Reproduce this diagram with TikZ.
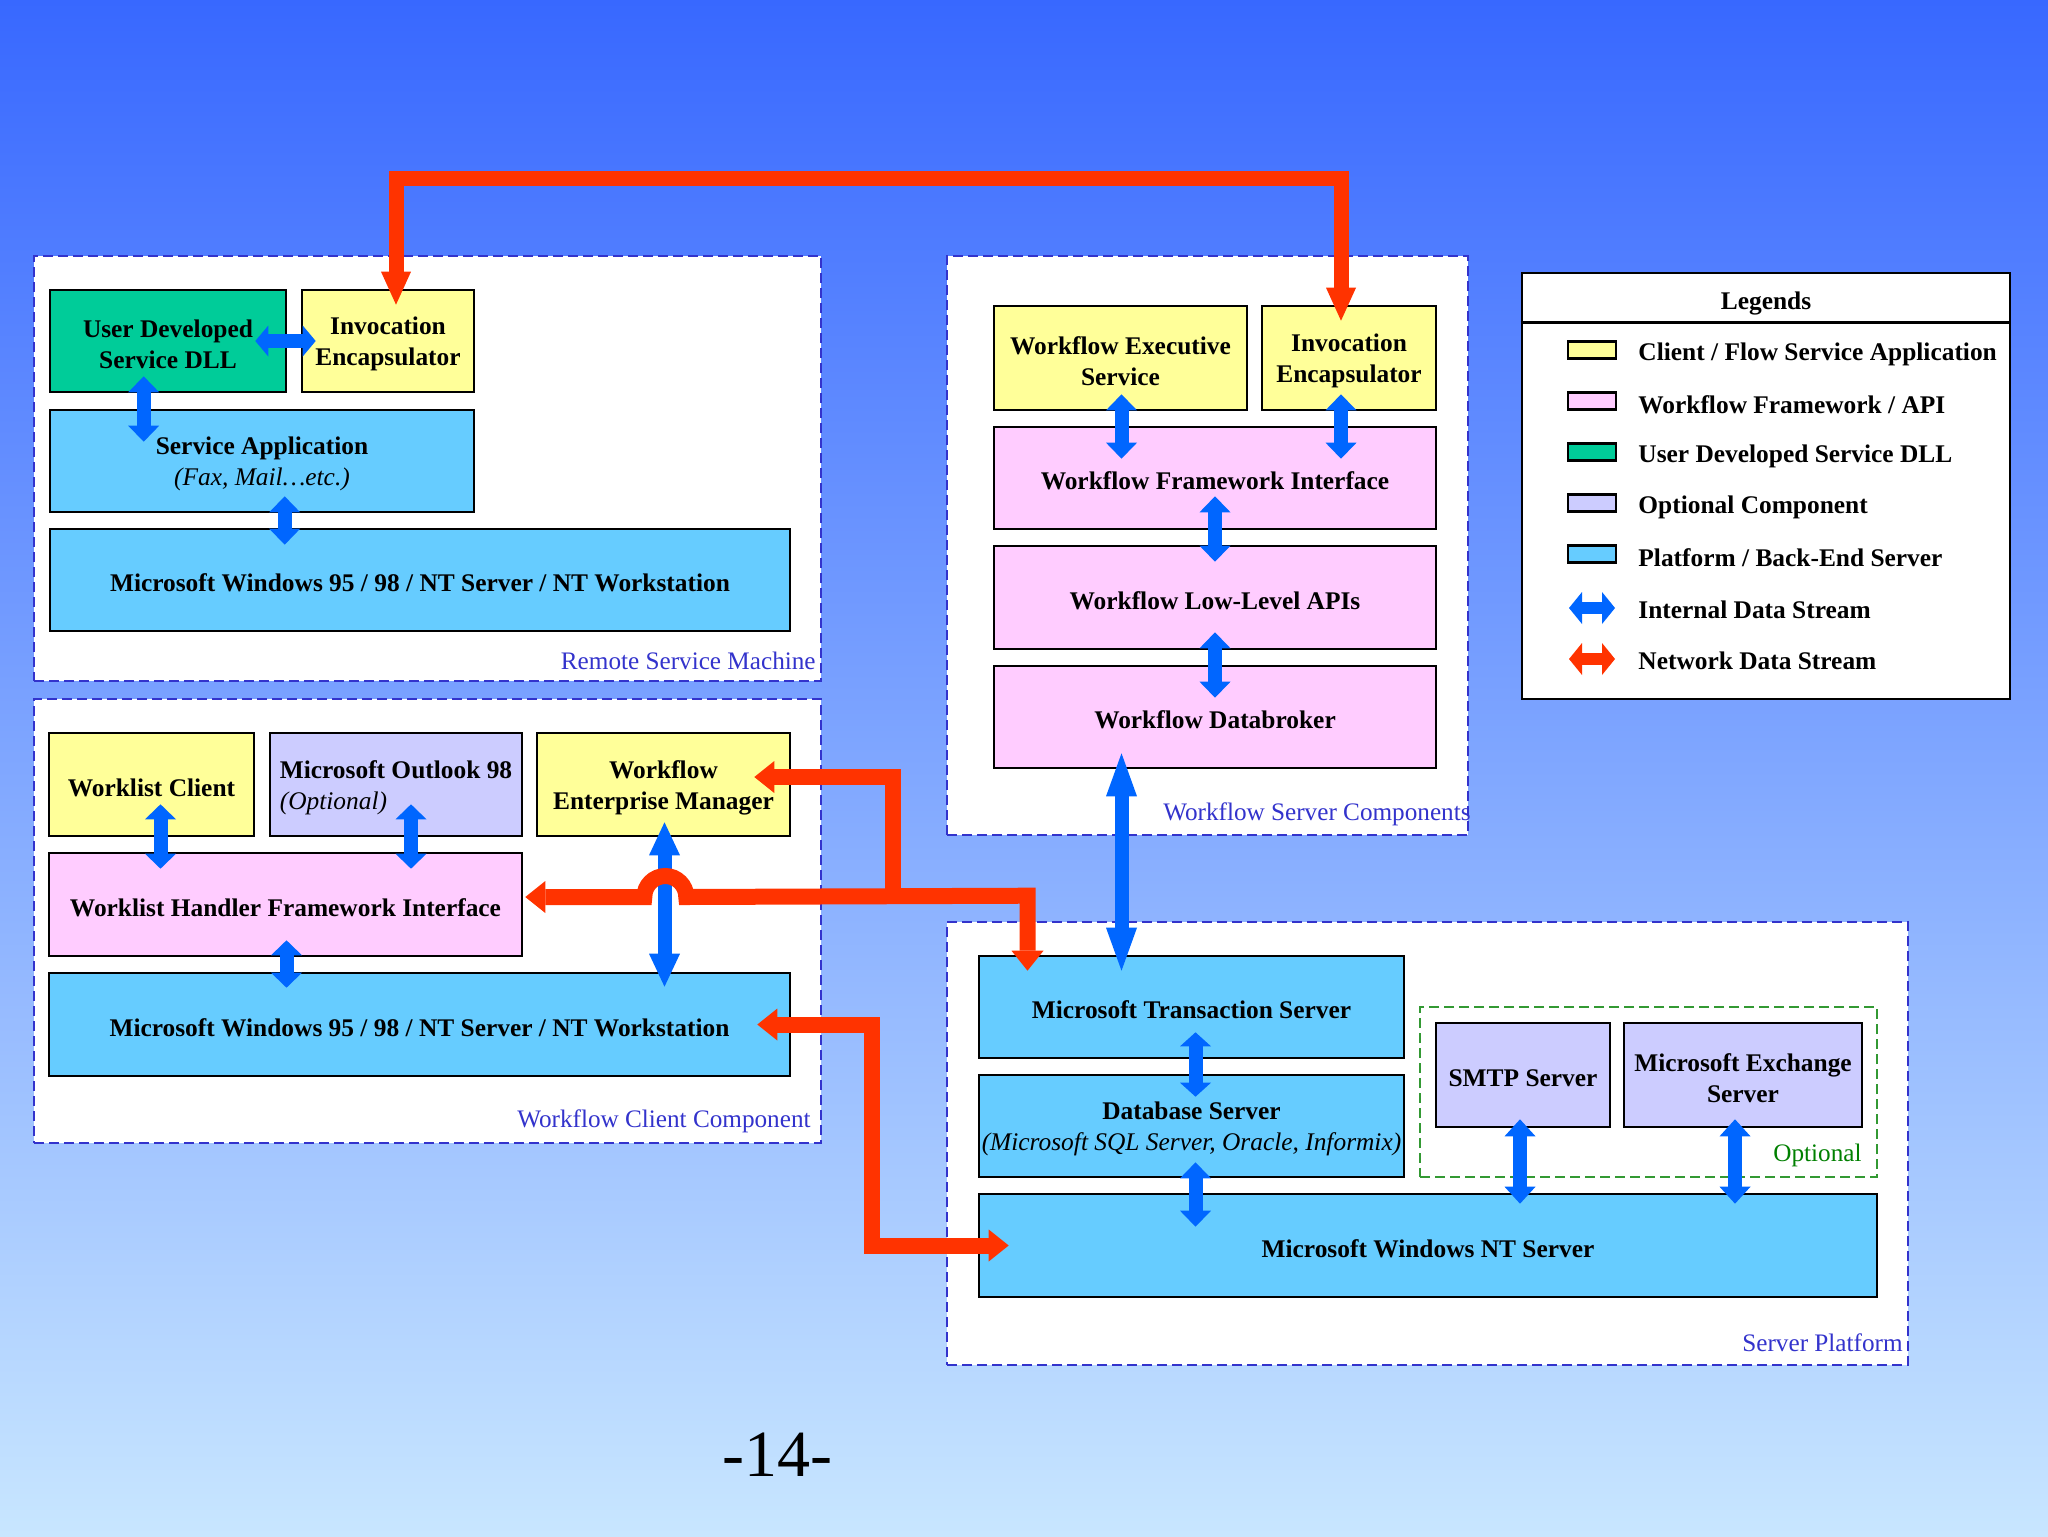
\documentclass[tikz,border=0pt]{standalone}
\usepackage{fontspec}
\setmainfont{Liberation Serif}
\usetikzlibrary{arrows.meta,fit,calc}
\definecolor{cyellow}{HTML}{FFFF99}
\definecolor{cpink}{HTML}{FFCCFF}
\definecolor{cgreen}{HTML}{00CC99}
\definecolor{clav}{HTML}{CCCCFF}
\definecolor{cblue}{HTML}{66CCFF}
\definecolor{ablue}{HTML}{0066FF}
\definecolor{ared}{HTML}{FF3300}
\definecolor{lblue}{HTML}{3333CC}
\definecolor{optgreen}{HTML}{008000}
\definecolor{optborder}{HTML}{339933}
\definecolor{bgtop}{HTML}{3868FF}
\definecolor{bgbot}{HTML}{C8E6FF}
\begin{document}
\begin{tikzpicture}[x=0.5pt,y=-0.5pt,
  box/.style={draw=black,line width=1.3pt,inner sep=0pt},
  btxt/.style={inner sep=0pt,align=center,yshift=-1.5pt,font=\fontsize{12.7}{15.5}\selectfont\bfseries},
  cont/.style={draw=lblue,fill=white,line width=1pt,dash pattern=on 5pt off 2.5pt,inner sep=0pt},
  optbox/.style={draw=optborder,line width=1pt,dash pattern=on 5pt off 2.5pt,inner sep=0pt},
  lbl/.style={text=lblue,inner sep=0pt,font=\fontsize{12.6}{15}\selectfont},
  sw/.style={draw=black,line width=1.2pt,minimum width=24pt,minimum height=8.5pt,inner sep=0pt},
  ltxt/.style={anchor=west,inner sep=0pt,font=\fontsize{12.7}{15}\selectfont\bfseries},
  barr/.style={draw=ablue,line width=7pt,arrows={Triangle[width=15.5pt,length=#1,line width=0pt]-Triangle[width=15.5pt,length=#1,line width=0pt]}},
  rarr/.style={draw=ared,line width=8pt,arrows={Triangle[width=16pt,length=#1,line width=0pt]-Triangle[width=16pt,length=#1,line width=0pt]}},
  rarrs/.style={draw=ared,line width=8pt,arrows={Triangle[width=16pt,length=#1,line width=0pt]-}},
]
\useasboundingbox (0,0) rectangle (2048,1536);
\shade[top color=bgtop,bottom color=bgbot] (0,0) rectangle (2048,1536);

% containers
\node[cont,fit={(34,256) (821,681)}] (rsm) {};
\node[cont,fit={(947,256) (1468,835)}] (wsc) {};
\node[cont,fit={(34,699) (821,1143)}] (wcc) {};
\node[cont,fit={(947,922) (1908,1365)}] (sp) {};
\node[optbox,fit={(1420,1007) (1877,1177)}] (opt) {};

\node[lbl,anchor=east] (lrsm) at (816,661) {Remote Service Machine};
\node[lbl,anchor=east] (lwsc) at (1471,814) {Workflow Server Components};
\node[lbl,anchor=east] (lwcc) at (811,1121) {Workflow Client Component};
\node[lbl,anchor=east] (lsp) at (1903,1343) {Server Platform};
\node[lbl,anchor=east,text=optgreen] (lopt) at (1862,1155) {Optional};

% remote service machine
\node[box,fill=cgreen,fit={(50,290) (286,392)}] (ud) {};
\node[box,fill=cyellow,fit={(302,290) (474,392)}] (ie1) {};
\node[box,fill=cblue,fit={(50,410) (474,512)}] (sa) {};
\node[box,fill=cblue,fit={(50,529) (790,631)}] (win1) {};
\node[btxt] (udt) at (ud.center) {User Developed\\Service DLL};
\node[btxt] (ie1t) at (ie1.center) {Invocation\\Encapsulator};
\node[btxt] (sat) at (sa.center) {Service Application\\{\normalfont\itshape (Fax, Mail…etc.)}};
\node[btxt] (win1t) at (win1.center) {Microsoft Windows 95 / 98 / NT Server / NT Workstation};

% workflow server components
\node[box,fill=cyellow,fit={(994,306) (1247,410)}] (wes) {};
\node[box,fill=cyellow,fit={(1262,306) (1436,410)}] (ie2) {};
\node[box,fill=cpink,fit={(994,427) (1436,529)}] (wfi) {};
\node[box,fill=cpink,fit={(994,546) (1436,649)}] (wll) {};
\node[box,fill=cpink,fit={(994,666) (1436,768)}] (wdb) {};
\node[btxt] (west) at (wes.center) {Workflow Executive\\Service};
\node[btxt] (ie2t) at (ie2.center) {Invocation\\Encapsulator};
\node[btxt] (wfit) at (wfi.center) {Workflow Framework Interface};
\node[btxt] (wllt) at (wll.center) {Workflow Low-Level APIs};
\node[btxt] (wdbt) at (wdb.center) {Workflow Databroker};

% workflow client component
\node[box,fill=cyellow,fit={(49,733) (254,836)}] (wlc) {};
\node[box,fill=clav,fit={(270,733) (522,836)}] (ol) {};
\node[box,fill=cyellow,fit={(537,733) (790,836)}] (wem) {};
\node[box,fill=cpink,fit={(49,853) (522,956)}] (whfi) {};
\node[box,fill=cblue,fit={(49,973) (790,1076)}] (win2) {};
\node[btxt] (wlct) at (wlc.center) {Worklist Client};
\node[btxt,align=left] (olt) at (ol.center) {Microsoft Outlook 98\\{\normalfont\itshape (Optional)}};
\node[btxt] (wemt) at (wem.center) {Workflow\\Enterprise Manager};
\node[btxt] (whfit) at (whfi.center) {Worklist Handler Framework Interface};
\node[btxt] (win2t) at (win2.center) {Microsoft Windows 95 / 98 / NT Server / NT Workstation};

% server platform
\node[box,fill=cblue,fit={(979,956) (1404,1058)}] (mts) {};
\node[box,fill=cblue,fit={(979,1075) (1404,1177)}] (dbs) {};
\node[box,fill=clav,fit={(1436,1023) (1610,1127)}] (smtp) {};
\node[box,fill=clav,fit={(1624,1023) (1862,1127)}] (mes) {};
\node[box,fill=cblue,fit={(979,1194) (1877,1297)}] (nts) {};
\node[btxt] (mtst) at (mts.center) {Microsoft Transaction Server};
\node[btxt] (dbst) at (dbs.center) {Database Server\\{\normalfont\itshape (Microsoft SQL Server, Oracle, Informix)}};
\node[btxt] (smtpt) at (smtp.center) {SMTP Server};
\node[btxt] (mest) at (mes.center) {Microsoft Exchange\\Server};
\node[btxt] (ntst) at (nts.center) {Microsoft Windows NT Server};

% legend
\node[draw=black,fill=white,line width=1.3pt,inner sep=0pt,fit={(1522,273) (2010,699)}] (lg) {};
\draw[line width=1.3pt] (lg.north west) ++(0,51) -- ++(488,0);
\node[font=\fontsize{12.7}{15}\selectfont\bfseries,inner sep=0pt] (lgt) at (1766,303) {Legends};
\node[sw,fill=cyellow] (sw1) at (1592,350) {};
\node[sw,fill=cpink] (sw2) at (1592,401) {};
\node[sw,fill=cgreen] (sw3) at (1592,452) {};
\node[sw,fill=clav] (sw4) at (1592,503) {};
\node[sw,fill=cblue] (sw5) at (1592,554) {};
\coordinate (la1) at (1569,608);
\coordinate (lb1) at (1615,608);
\coordinate (la2) at (1569,659);
\coordinate (lb2) at (1615,659);
\draw[draw=ablue,line width=6pt,arrows={Triangle[width=16pt,length=6.5pt,line width=0pt]-Triangle[width=16pt,length=6.5pt,line width=0pt]}] (la1) -- (lb1);
\draw[draw=ared,line width=6pt,arrows={Triangle[width=16pt,length=6.5pt,line width=0pt]-Triangle[width=16pt,length=6.5pt,line width=0pt]}] (la2) -- (lb2);
\node[ltxt] (lt1) at (1638,354) {Client / Flow Service Application};
\node[ltxt] (lt2) at (1638,405) {Workflow Framework / API};
\node[ltxt] (lt3) at (1638,456) {User Developed Service DLL};
\node[ltxt] (lt4) at (1638,507) {Optional Component};
\node[ltxt] (lt5) at (1638,558) {Platform / Back-End Server};
\node[ltxt] (lt6) at (1638,610) {Internal Data Stream};
\node[ltxt] (lt7) at (1638,661) {Network Data Stream};

% page number
\node[font=\fontsize{33}{40}\selectfont,inner sep=0pt] (pg) at (777,1455) {-14-};

% blue arrows
\draw[barr=8pt] ($(ud.south west)+(95,-17)$) -- ($(sa.north west)+(95,33)$);
\draw[barr=6.5pt] ($(ud.east)+(-32,0)$) -- ($(ie1.west)+(15,0)$);
\draw[barr=8pt] ($(sa.south west)+(236,-17)$) -- ($(win1.north west)+(236,17)$);
\draw[barr=8pt] ($(wes.south)+(1,-17)$) -- ($(wes.south |- wfi.north)+(1,33)$);
\draw[barr=8pt] ($(ie2.south)+(-8,-17)$) -- ($(ie2.south |- wfi.north)+(-8,33)$);
\draw[barr=8pt] ($(wfi.south)+(0,-34)$) -- ($(wll.north)+(0,17)$);
\draw[barr=8pt] ($(wll.south)+(0,-18)$) -- ($(wdb.north)+(0,33)$);
\draw[barr=21.5pt] ($(wes.south |- wdb.south)+(1,-16)$) -- ($(wes.south |- mts.north)+(1,16)$);
\draw[barr=7.5pt] ($(wlc.south)+(9,-33)$) -- ($(wlc.south |- whfi.north)+(9,17)$);
\draw[barr=7.5pt] ($(ol.south)+(15,-33)$) -- ($(ol.south |- whfi.north)+(15,17)$);
\draw[barr=7.5pt] ($(whfi.south)+(1,-17)$) -- ($(whfi.south |- win2.north)+(1,16)$);
\draw[barr=16.5pt] ($(wem.south)+(1,-15)$) -- ($(wem.south |- win2.north)+(1,15)$);
\draw[barr=7pt] ($(mts.south)+(4,-27)$) -- ($(mts.south |- dbs.north)+(4,23)$);
\draw[barr=8pt] ($(dbs.south)+(4,-16)$) -- ($(dbs.south |- nts.north)+(4,34)$);
\draw[barr=8.5pt] ($(smtp.south)+(-3,-9)$) -- ($(smtp.south |- nts.north)+(-3,11)$);
\draw[barr=8.5pt] ($(mes.south)+(-8,-9)$) -- ($(mes.south |- nts.north)+(-8,11)$);

% red network arrows
\draw[rarr=16.5pt,arrows={Triangle[width=15pt,length=16.5pt,line width=0pt]-Triangle[width=15pt,length=16.5pt,line width=0pt]},line width=7.5pt]
  ($(ie1.north)+(8,16)$) |- ($(ie2.north)+(-8,-126)$) -- ($(ie2.north)+(-8,16)$);
\draw[rarr=10pt] ($(whfi.east)+(2,-7.5)$) -- ++(119,0) arc (180:360:21) -- ($(mts.north)+(-164,-59)$) -- ($(mts.north)+(-164,16)$);
\draw[rarrs=10pt] ($(wem.east)+(-37,-7.5)$) -| ($(whfi.east)+(370,-7.5)$);
\draw[rarr=10pt] ($(win2.east)+(-34,0)$) -- ++(115,0) |- ($(nts.west)+(31,0)$);
\end{tikzpicture}
\end{document}
